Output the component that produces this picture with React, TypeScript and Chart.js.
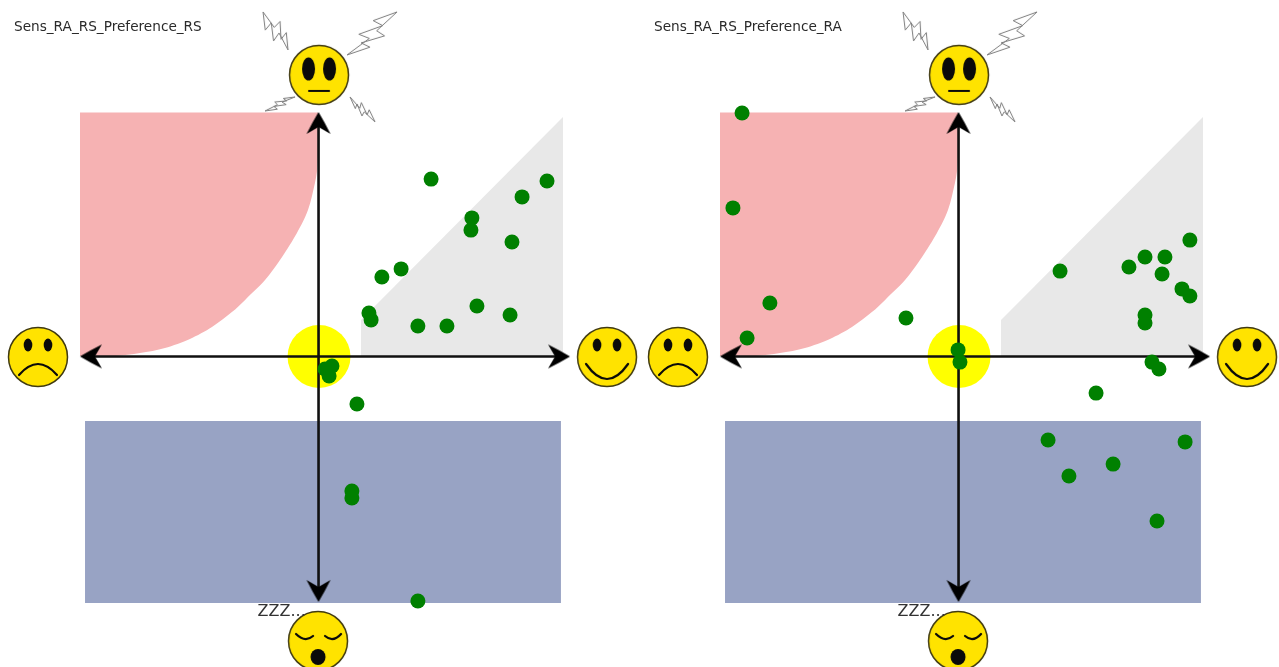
import React, { useEffect, useRef } from "react";
import { Chart, registerables } from "chart.js";

Chart.register(...registerables);

// Participant ratings, valence (x) / arousal (y)
const rsX = [0.465, 0.844, 0.948, 0.635, 0.631, 0.802, 0.34, 0.26, 0.206, 0.215, 0.41, 0.531, 0.656, 0.794, 0.052, 0.023, 0.04, 0.156, 0.135, 0.135, 0.41];
const rsY = [0.725, 0.652, 0.717, 0.566, 0.516, 0.467, 0.357, 0.324, 0.176, 0.148, 0.123, 0.123, 0.205, 0.168, -0.041, -0.053, -0.082, -0.197, -0.553, -0.582, -1.004];
const raX = [-0.906, -0.944, -0.79, -0.885, -0.223, -0.006, 0.002, 0.419, 0.706, 0.773, 0.856, 0.844, 0.96, 0.927, 0.96, 0.773, 0.773, 0.802, 0.831, 0.569, 0.369, 0.456, 0.64, 0.94, 0.823];
const raY = [0.996, 0.607, 0.217, 0.074, 0.156, 0.025, -0.025, 0.348, 0.365, 0.406, 0.406, 0.336, 0.475, 0.275, 0.246, 0.168, 0.135, -0.025, -0.053, -0.152, -0.344, -0.492, -0.443, -0.352, -0.676];

// Shaded regions
const redEdgeX = [-0.006, -0.006, -0.01, -0.019, -0.048, -0.094, -0.156, -0.227, -0.31, -0.365, -0.448, -0.54, -0.644, -0.748, -0.852, -0.998];
const redEdgeY = [0.996, 0.844, 0.762, 0.709, 0.598, 0.504, 0.406, 0.311, 0.23, 0.18, 0.119, 0.07, 0.033, 0.012, 0, 0];
const redTop = 0.998;
const greyEdgeX = [0.173, 1.015];
const greyEdgeY = [0.148, 0.98];
const blueEdgeX = [-0.977, 1.006];
const blueTop = -0.266;
const blueBottom = -1.012;

// Axes, faces
const axisX = -0.004;
const axisY = -0.002;
const hAxisEnds = [-0.96, 1.01];
const vAxisEnds = [0.965, -0.975];
const tipsX = [-0.998, 1.044, axisX, axisX];
const tipsY = [axisY, axisY, 1.0, -1.008];
const tipAngles = [180, 0, 270, 90];
const faceX = [-0.002, -1.173, 1.198, -0.006];
const faceY = [1.152, -0.004, -0.004, -1.168];

const panels = [
  { title: "Sens_RA_RS_Preference_RS", xs: rsX, ys: rsY, width: 640, xMax: 1.33542 },
  { title: "Sens_RA_RS_Preference_RA", xs: raX, ys: raY, width: 639, xMax: 1.33125 },
];
const xMin = -1.33125;
const yMax = 1.45902;
const yMin = -1.27459;

function bolt(c: CanvasRenderingContext2D, x1: number, y1: number, x2: number, y2: number, w: number) {
  const dx = x2 - x1, dy = y2 - y1;
  const nx = -dy / Math.hypot(dx, dy), ny = dx / Math.hypot(dx, dy);
  const shape = [[0, 0], [0.36, 0.9], [0.3, -0.1], [0.66, 0.8], [0.58, -0.2], [1, 0], [0.66, -0.9], [0.72, 0.0], [0.38, -1.0], [0.42, -0.1]];
  c.beginPath();
  shape.forEach(([t, s], i) => {
    const px = x1 + dx * t + nx * s * w, py = y1 + dy * t + ny * s * w;
    if (i === 0) c.moveTo(px, py); else c.lineTo(px, py);
  });
  c.closePath();
  c.fillStyle = "#ffffff";
  c.fill();
  c.strokeStyle = "#7c7c7c";
  c.lineWidth = 1;
  c.stroke();
}

function faceCanvas(kind: string) {
  const cv = document.createElement("canvas");
  cv.width = 170;
  cv.height = 140;
  const c = cv.getContext("2d")!;
  c.translate(85, 70);
  if (kind === "alert") {
    bolt(c, -56, -63, -31, -25, 9);
    bolt(c, 78, -63, 28, -20, 10);
    bolt(c, -54, 36, -24, 22, 4);
    bolt(c, 56, 47, 31, 22, 5);
  }
  c.beginPath();
  c.arc(0, 0, 29.5, 0, Math.PI * 2);
  c.fillStyle = "#ffe300";
  c.fill();
  c.strokeStyle = "#403a10";
  c.lineWidth = 1.5;
  c.stroke();
  c.fillStyle = "#0a0a0a";
  c.strokeStyle = "#0a0a0a";
  c.lineWidth = 2.2;
  c.lineCap = "round";
  const eye = (x: number, y: number, rx: number, ry: number) => {
    c.beginPath();
    c.ellipse(x, y, rx, ry, 0, 0, Math.PI * 2);
    c.fill();
  };
  const curve = (x1: number, y1: number, cx: number, cy: number, x2: number, y2: number) => {
    c.beginPath();
    c.moveTo(x1, y1);
    c.quadraticCurveTo(cx, cy, x2, y2);
    c.stroke();
  };
  if (kind === "alert") {
    eye(-10.5, -6, 6.5, 11.5);
    eye(10.5, -6, 6.5, 11.5);
    curve(-10, 16, 0, 16, 10, 16);
  } else if (kind === "sad") {
    eye(-10, -12, 4.3, 6.5);
    eye(10, -12, 4.3, 6.5);
    curve(-19, 18, 0, -4, 19, 18);
  } else if (kind === "happy") {
    eye(-10, -12, 4.3, 6.5);
    eye(10, -12, 4.3, 6.5);
    curve(-21, 7, 0, 37, 21, 7);
  } else {
    curve(-22, -7, -13, 2, -5, -5);
    curve(7, -5, 15, 2, 23, -7);
    eye(0, 16, 7.5, 8);
  }
  return cv;
}

function arrowCanvas() {
  const cv = document.createElement("canvas");
  cv.width = 60;
  cv.height = 60;
  const c = cv.getContext("2d")!;
  c.translate(30, 30);
  c.beginPath();
  c.moveTo(0, 0);
  c.quadraticCurveTo(-10, -6, -22, -12);
  c.lineTo(-15, 0);
  c.lineTo(-22, 12);
  c.quadraticCurveTo(-10, 6, 0, 0);
  c.closePath();
  c.fillStyle = "#000000";
  c.fill();
  return cv;
}

function Panel({ title, xs, ys, width, xMax, left }: any) {
  const ref = useRef<HTMLCanvasElement>(null);
  useEffect(() => {
    const zip = (a: number[], b: number[]) => a.map((x, i) => ({ x, y: b[i] }));
    const arrow = arrowCanvas();
    const line = (data: any[], extra: any) => ({
      type: "scatter",
      data,
      showLine: true,
      pointRadius: 0,
      borderWidth: 0,
      borderColor: "transparent",
      tension: 0,
      ...extra,
    });
    const labels = {
      id: "panelText",
      afterDraw(chart: any) {
        const c = chart.ctx;
        const sx = chart.scales.x, sy = chart.scales.y;
        c.save();
        c.textBaseline = "middle";
        c.textAlign = "left";
        c.fillStyle = "#2a2a2a";
        c.font = '13.65px "DejaVu Sans"';
        c.fillText(title, 14, 27.5);
        c.fillStyle = "#333333";
        c.font = '16px "DejaVu Sans"';
        c.fillText("ZZZ...", sx.getPixelForValue(-0.258), sy.getPixelForValue(-1.05));
        c.restore();
      },
    };
    const chart = new Chart(ref.current!, {
      type: "scatter",
      data: {
        datasets: [
          { label: "Ratings", data: zip(xs, ys), pointRadius: 7.5, backgroundColor: "#008000", borderWidth: 0 },
          { label: "Faces", data: zip(faceX, faceY), pointRadius: 30, pointStyle: [faceCanvas("alert"), faceCanvas("sad"), faceCanvas("happy"), faceCanvas("sleep")] },
          { label: "Arrowheads", data: zip(tipsX, tipsY), pointRadius: 6, pointStyle: arrow, pointRotation: tipAngles },
          line(hAxisEnds.map((x) => ({ x, y: axisY })), { label: "Horizontal axis", borderWidth: 2.6, borderColor: "#101010" }),
          line(vAxisEnds.map((y) => ({ x: axisX, y })), { label: "Vertical axis", borderWidth: 2.6, borderColor: "#101010" }),
          { label: "Neutral", data: [{ x: -0.002, y: -0.002 }], pointRadius: 31.5, backgroundColor: "#ffff00", borderWidth: 0 },
          line(zip(redEdgeX, redEdgeY), { label: "Red region", fill: { value: redTop }, backgroundColor: "#f6b2b3", tension: 0.3 }),
          line(zip(greyEdgeX, greyEdgeY), { label: "Grey region", fill: { value: 0 }, backgroundColor: "#e8e8e8" }),
          line(blueEdgeX.map((x) => ({ x, y: blueTop })), { label: "Blue region", fill: { value: blueBottom }, backgroundColor: "#98a3c4" }),
        ] as any,
      },
      options: {
        responsive: false,
        animation: false,
        events: [],
        layout: { padding: 0, autoPadding: false },
        plugins: { legend: { display: false }, tooltip: { enabled: false }, title: { display: false } },
        scales: {
          x: { type: "linear", display: false, min: xMin, max: xMax },
          y: { type: "linear", display: false, min: yMin, max: yMax },
        },
      },
      plugins: [labels],
    } as any);
    return () => chart.destroy();
  }, []);
  return <canvas ref={ref} width={width} height={667} style={{ position: "absolute", left, top: 0, display: "block" }} />;
}

export default function App() {
  return (
    <div style={{ position: "absolute", left: 0, top: 0, width: 1279, height: 667, background: "#ffffff", overflow: "hidden" }}>
      <Panel {...panels[0]} left={0} />
      <Panel {...panels[1]} left={640} />
    </div>
  );
}
